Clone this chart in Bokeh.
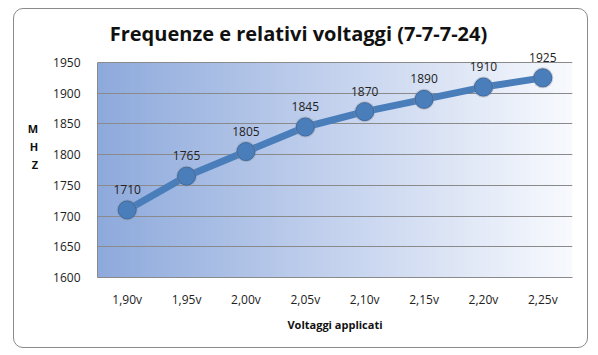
import numpy as np
from bokeh.plotting import figure
from bokeh.models import (FactorRange, Range1d, ColumnDataSource, FixedTicker,
                          Label, InlineStyleSheet)
from bokeh.embed import file_html
from bokeh.resources import INLINE

voltages = ["1,90v", "1,95v", "2,00v", "2,05v", "2,10v", "2,15v", "2,20v", "2,25v"]
mhz = [1710, 1765, 1805, 1845, 1870, 1890, 1910, 1925]
y_ticks = [1600, 1650, 1700, 1750, 1800, 1850, 1900, 1950]
title_text = "Frequenze e relativi voltaggi (7-7-7-24)"
x_title = "Voltaggi applicati"
y_title = "M\nH\nZ"

y_lo, y_hi = y_ticks[0], y_ticks[-1]
# geometry: plotted band 1600..1950 spans 215 px; frame extends 48 px above it
band_px, extra_px = 215, 48
y_top = y_hi + extra_px * (y_hi - y_lo) / band_px

border_css = InlineStyleSheet(css="""
:host { position: relative; }
:host::after {
  content: ''; position: absolute; left: 13px; top: 8px; width: 573px; height: 338px;
  border: 1px solid #8a8a8a; border-radius: 10px; pointer-events: none;
}
""")

p = figure(width=598, height=355, output_backend="svg", toolbar_location=None,
           x_range=FactorRange(factors=voltages, range_padding=0),
           y_range=Range1d(y_lo, y_top),
           min_border_left=97, min_border_right=26, min_border_top=14, min_border_bottom=78,
           stylesheets=[border_css])
p.outline_line_color = None
p.background_fill_color = "white"
p.border_fill_color = "white"

# gradient background
n = 256
left = np.array([0x8e, 0xaa, 0xdc], dtype=float)
mid = np.array([0xc4, 0xd2, 0xee], dtype=float)
right = np.array([0xf8, 0xfa, 0xfe], dtype=float)
t = np.linspace(0, 1, n)
cols = np.zeros((n, 3))
for i, tt in enumerate(t):
    if tt < 0.5:
        cols[i] = left + (mid - left) * (tt / 0.5)
    else:
        cols[i] = mid + (right - mid) * ((tt - 0.5) / 0.5)
img = np.zeros((1, n), dtype=np.uint32)
view = img.view(dtype=np.uint8).reshape((1, n, 4))
view[0, :, 0] = cols[:, 0].astype(np.uint8)
view[0, :, 1] = cols[:, 1].astype(np.uint8)
view[0, :, 2] = cols[:, 2].astype(np.uint8)
view[0, :, 3] = 255
p.image_rgba(image=[img], x=0, y=y_lo, dw=len(voltages), dh=y_hi - y_lo, level="image")

# axes
p.yaxis.ticker = FixedTicker(ticks=y_ticks)
p.ygrid.ticker = FixedTicker(ticks=y_ticks)
p.yaxis.bounds = (y_lo, y_hi)
p.ygrid.grid_line_color = "#8a8a8a"
p.ygrid.level = "underlay"
p.xgrid.grid_line_color = None
for ax in (p.xaxis, p.yaxis):
    ax.axis_line_color = "#8a8a8a"
    ax.major_tick_line_color = None
    ax.minor_tick_line_color = None
    ax.major_label_text_font = "Open Sans"
    ax.major_label_text_font_size = "12px"
    ax.major_label_text_color = "#222222"
    ax.axis_label_text_font = "Open Sans"
    ax.axis_label_text_font_style = "bold"
    ax.axis_label_text_font_size = "11px"
    ax.axis_label_text_color = "#111111"
p.yaxis.major_label_standoff = 11
p.xaxis.major_label_standoff = 7
p.xaxis.axis_label = x_title
p.xaxis.axis_label_standoff = 6
p.yaxis.axis_label = y_title
p.yaxis.axis_label_orientation = "horizontal"
p.yaxis.axis_label_standoff = 12

src = ColumnDataSource(dict(x=voltages, y=mhz))
p.line(x="x", y="y", source=src, line_color="#4a7ebb", line_width=7)
p.scatter(x="x", y="y", source=src, size=21, fill_color="#8f8f8f", fill_alpha=0.4,
          line_color=None, marker="circle")
p.scatter(x="x", y="y", source=src, size=18, fill_color="#4a7ebb", line_color="#3c6aa6",
          line_width=1, marker="circle")
# value labels: factor i is centred at synthetic coordinate i + 0.5
for i, m in enumerate(mhz):
    p.add_layout(Label(x=i + 0.5, y=m, text=str(m), text_align="center",
                       text_baseline="bottom", y_offset=16, text_font="Open Sans",
                       text_font_size="12px", text_color="#222222"))

# title (screen units measured from the frame's lower-left corner)
p.add_layout(Label(x=201, y=244, x_units="screen", y_units="screen", text=title_text,
                   text_align="center", text_baseline="middle", text_font="Open Sans",
                   text_font_style="bold", text_font_size="20px", text_color="#111111"))

open("out.html", "w").write(file_html(p, INLINE))
